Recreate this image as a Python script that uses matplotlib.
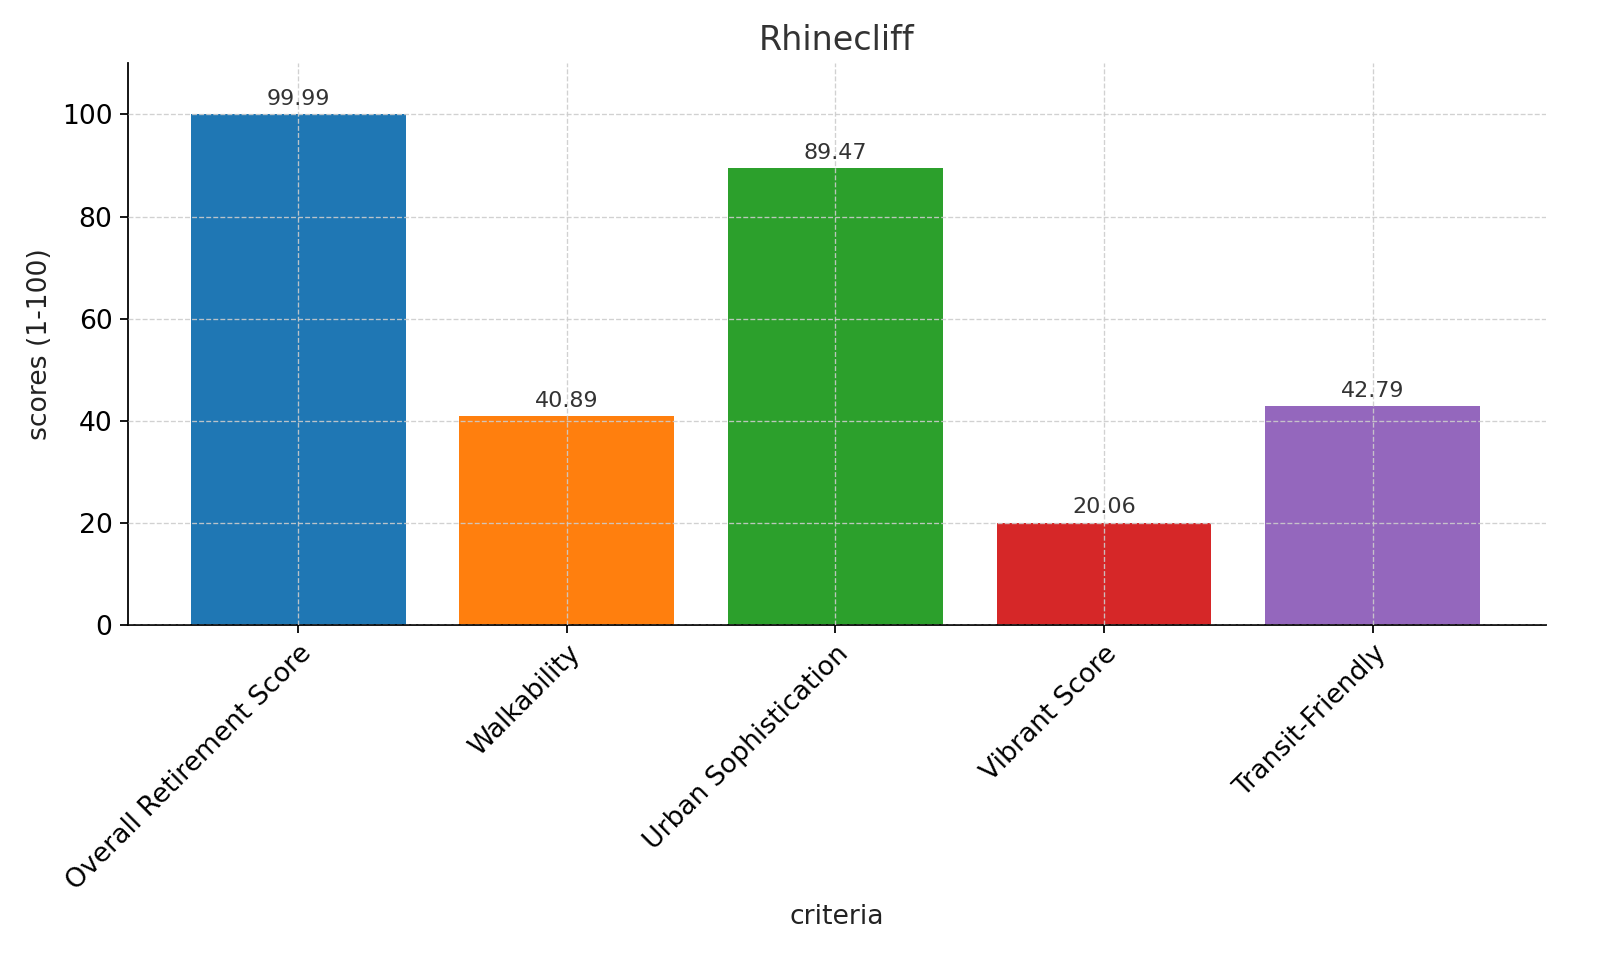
import matplotlib.pyplot as plt

criteria = ["Overall Retirement Score", "Walkability", "Urban Sophistication",
            "Vibrant Score", "Transit-Friendly"]
scores = [99.99, 40.89, 89.47, 20.06, 42.79]
bar_colors = ["#1f77b4", "#ff7f0e", "#2ca02c", "#d62728", "#9467bd"]

fig = plt.figure(figsize=(10, 6), dpi=160)
ax = fig.add_axes([0.08, 0.349, 0.886, 0.585])

bars = ax.bar(criteria, scores, color=bar_colors, width=0.8, zorder=1)
for b, v in zip(bars, scores):
    ax.text(b.get_x() + b.get_width() / 2, v + 1, f"{v:.2f}",
            ha="center", va="bottom", fontsize=10, color="#333333")

ax.set_ylim(0, 110)
ax.set_xlim(-0.633, 4.644)
ax.grid(True, linestyle="--", color="#cccccc", linewidth=0.6, alpha=0.9, zorder=3)
ax.set_axisbelow(False)
for s in ["top", "right"]:
    ax.spines[s].set_visible(False)

ax.set_title("Rhinecliff", fontsize=15, color="#333333")
ax.set_xlabel("criteria", fontsize=12, color="#222222")
ax.set_ylabel("scores (1-100)", fontsize=12, color="#222222")
ax.tick_params(labelsize=12)
plt.setp(ax.get_xticklabels(), rotation=45, ha="right", rotation_mode="anchor")

fig.savefig("out.png")
